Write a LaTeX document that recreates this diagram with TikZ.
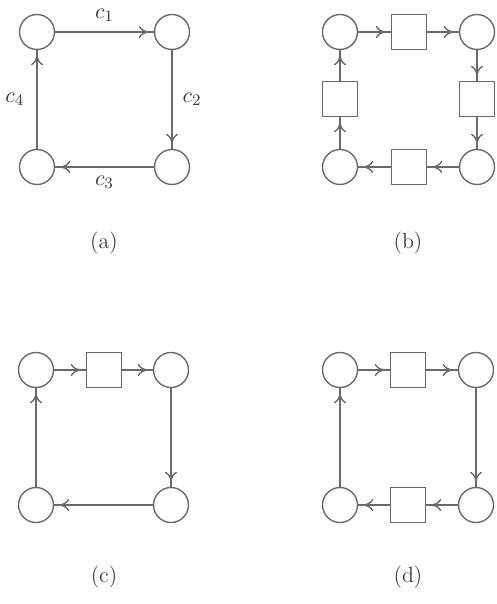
\documentclass[tikz,border=0pt]{standalone}
\usepackage{tikz}
\usetikzlibrary{arrows.meta, decorations.markings}
\definecolor{netgray}{HTML}{6A6A6A}
\definecolor{labeltext}{HTML}{3A3A3A}

\begin{document}
\begin{tikzpicture}[
    x=0.5pt, y=-0.5pt,
    place/.style={circle, draw=netgray, line width=0.7pt,
                  minimum size=17.5pt, inner sep=0pt},
    trans/.style={rectangle, draw=netgray, line width=0.7pt,
                  minimum size=17.5pt, inner sep=0pt},
    flow/.style={color=netgray, line width=0.7pt, postaction={decorate},
                 decoration={markings,
                   mark=at position -2.5pt with {\arrow{To[length=5pt, width=6pt]}}}},
    chan/.style={font=\fontsize{11}{13}\selectfont, text=labeltext, inner sep=2pt},
    caption/.style={font=\fontsize{11}{13}\selectfont, text=labeltext}
]
\useasboundingbox (0,0) rectangle (497,604);

% (a) plain cycle with channel labels
\node[place] (a1) at (37,32) {};
\node[place] (a2) at (172,32) {};
\node[place] (a3) at (172,167) {};
\node[place] (a4) at (37,167) {};
\draw[flow] (a1) -- (a2) node[chan, midway, above=3pt] {$c_1$};
\draw[flow] (a2) -- (a3) node[chan, midway, right=3pt] {$c_2$};
\draw[flow] (a3) -- (a4) node[chan, midway, below=2pt] {$c_3$};
\draw[flow] (a4) -- (a1) node[chan, midway, left=4pt] {$c_4$};
\node[caption] (capa) at (104,243) {(a)};

% (b) every channel buffered
\node[place] (b1) at (340,32) {};
\node[place] (b2) at (477,32) {};
\node[place] (b3) at (477,167) {};
\node[place] (b4) at (340,167) {};
\node[trans] (bt) at (409,32) {};
\node[trans] (br) at (477,99) {};
\node[trans] (bb) at (409,167) {};
\node[trans] (bl) at (340,99) {};
\draw[flow] (b1) -- (bt);
\draw[flow] (bt) -- (b2);
\draw[flow] (b2) -- (br);
\draw[flow] (br) -- (b3);
\draw[flow] (b3) -- (bb);
\draw[flow] (bb) -- (b4);
\draw[flow] (b4) -- (bl);
\draw[flow] (bl) -- (b1);
\node[caption] (capb) at (408,243) {(b)};

% (c) one buffered channel
\node[place] (c1) at (36,370) {};
\node[place] (c2) at (171,370) {};
\node[place] (c3) at (171,505) {};
\node[place] (c4) at (36,505) {};
\node[trans] (ct) at (104,370) {};
\draw[flow] (c1) -- (ct);
\draw[flow] (ct) -- (c2);
\draw[flow] (c2) -- (c3);
\draw[flow] (c3) -- (c4);
\draw[flow] (c4) -- (c1);
\node[caption] (capc) at (104,577) {(c)};

% (d) two buffered channels
\node[place] (d1) at (340,370) {};
\node[place] (d2) at (476,370) {};
\node[place] (d3) at (476,505) {};
\node[place] (d4) at (340,505) {};
\node[trans] (dt) at (408,370) {};
\node[trans] (db) at (408,505) {};
\draw[flow] (d1) -- (dt);
\draw[flow] (dt) -- (d2);
\draw[flow] (d2) -- (d3);
\draw[flow] (d3) -- (db);
\draw[flow] (db) -- (d4);
\draw[flow] (d4) -- (d1);
\node[caption] (capd) at (408,577) {(d)};

\end{tikzpicture}
\end{document}
